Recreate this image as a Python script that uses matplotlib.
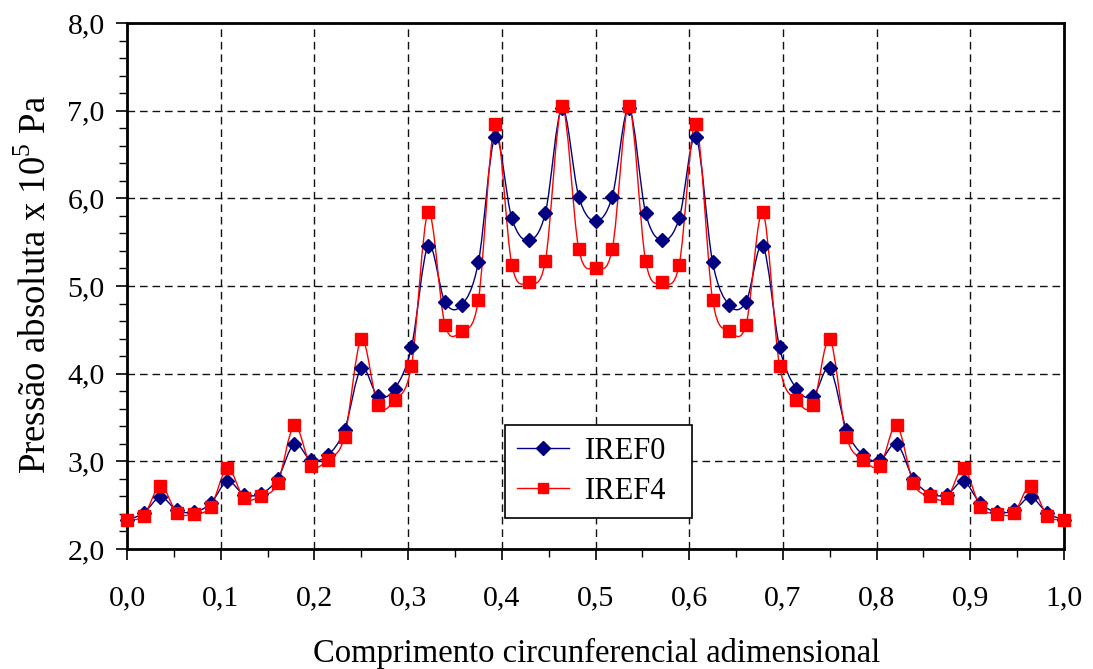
import numpy as np
import matplotlib
matplotlib.use("Agg")
import matplotlib.pyplot as plt
from matplotlib.path import Path
from matplotlib.patches import PathPatch
from matplotlib.lines import Line2D
from matplotlib.ticker import MultipleLocator, FuncFormatter

plt.rcParams['font.family'] = ['Liberation Serif', 'DejaVu Serif']
plt.rcParams['mathtext.fontset'] = 'custom'
plt.rcParams['mathtext.rm'] = 'Liberation Serif'

# x positions: 57 equally spaced points over the dimensionless circumference
n_points = 57
x_vals = np.linspace(0.0, 1.0, n_points)

iref0 = [2.33, 2.41, 2.59, 2.44, 2.42, 2.52, 2.77, 2.62, 2.63, 2.80,
         3.20, 3.01, 3.07, 3.36, 4.06, 3.74, 3.83, 4.30, 5.46, 4.82,
         4.78, 5.27, 6.70, 5.77, 5.52, 5.83, 7.03, 6.02, 5.74, 6.02,
         7.03, 5.83, 5.52, 5.77, 6.70, 5.27, 4.78, 4.82, 5.46, 4.30,
         3.83, 3.74, 4.06, 3.36, 3.07, 3.01, 3.20, 2.80, 2.63, 2.62,
         2.77, 2.52, 2.42, 2.44, 2.59, 2.41, 2.33]

iref4 = [2.33, 2.38, 2.72, 2.41, 2.40, 2.48, 2.92, 2.58, 2.60, 2.75,
         3.41, 2.95, 3.02, 3.28, 4.39, 3.64, 3.70, 4.09, 5.84, 4.56,
         4.49, 4.84, 6.85, 5.24, 5.04, 5.28, 7.05, 5.42, 5.21, 5.42,
         7.05, 5.28, 5.04, 5.24, 6.85, 4.84, 4.49, 4.56, 5.84, 4.09,
         3.70, 3.64, 4.39, 3.28, 3.02, 2.95, 3.41, 2.75, 2.60, 2.58,
         2.92, 2.48, 2.40, 2.41, 2.72, 2.38, 2.33]

series_names = ["IREF0", "IREF4"]


def smooth_path(x, y):
    """Catmull-Rom spline through the data points, as cubic Bezier segments."""
    x = np.asarray(x, float)
    y = np.asarray(y, float)
    pts = np.column_stack([x, y])
    verts = [pts[0]]
    codes = [Path.MOVETO]
    n = len(pts)
    t = 1.0 / 6.0
    for i in range(n - 1):
        p0 = pts[i - 1] if i > 0 else pts[i]
        p1 = pts[i]
        p2 = pts[i + 1]
        p3 = pts[i + 2] if i + 2 < n else pts[i + 1]
        c1 = p1 + (p2 - p0) * t
        c2 = p2 - (p3 - p1) * t
        verts += [c1, c2, p2]
        codes += [Path.CURVE4] * 3
    return Path(verts, codes)


fig = plt.figure(figsize=(10.93, 6.69), dpi=100)
ax = fig.add_axes([127 / 1093, 1 - 549 / 669, (1064 - 127) / 1093, (549 - 23) / 669])

styles = [
    dict(color="#000080", marker="D", ms=7.5),
    dict(color="#FF0000", marker="s", ms=8.5),
]

for vals, st in zip([iref0, iref4], styles):
    ax.add_patch(PathPatch(smooth_path(x_vals, vals), facecolor="none",
                           edgecolor=st["color"], lw=1.0, zorder=3))
    ax.plot(x_vals, vals, linestyle="none", marker=st["marker"],
            ms=st["ms"], color=st["color"], mec=st["color"], zorder=4,
            clip_on=False)

ax.set_xlim(0, 1)
ax.set_ylim(2, 8)
ax.xaxis.set_major_locator(MultipleLocator(0.1))
ax.xaxis.set_minor_locator(MultipleLocator(0.05))
ax.yaxis.set_major_locator(MultipleLocator(1.0))
ax.yaxis.set_minor_locator(MultipleLocator(0.2))
fmt = FuncFormatter(lambda v, p: f"{v:.1f}".replace(".", ","))
ax.xaxis.set_major_formatter(fmt)
ax.yaxis.set_major_formatter(fmt)

ax.tick_params(which="major", direction="out", length=8, width=1.2,
               labelsize=21.5, pad=8, colors="black")
ax.tick_params(which="minor", direction="out", length=6, width=1.0)
ax.tick_params(axis="x", which="major", pad=18)

for s in ax.spines.values():
    s.set_linewidth(2.0)
    s.set_color("black")

ax.grid(True, which="major", color="#111111", linestyle=(0, (5.5, 3.5)), lw=1.0)
ax.set_axisbelow(True)

fig.text(597 / 1093, 1 - 653 / 669, "Comprimento circunferencial adimensional",
         fontsize=23.5, ha="center", va="center")
fig.text(36 / 1093, 1 - 284 / 669, "Pressão absoluta x 10$^{5}$ Pa",
         fontsize=26.5, ha="center", va="center", rotation=90)

handles = [Line2D([], [], color=st["color"], marker=st["marker"], ms=st["ms"] * 0.9,
                  lw=1.0) for st in styles]
leg = ax.legend(handles, series_names, loc="lower left",
                bbox_to_anchor=((505 - 127) / 937, (549 - 518) / 526,
                                (692 - 505) / 937, (518 - 424) / 526),
                mode="expand", fontsize=22, frameon=True, fancybox=False,
                edgecolor="black", framealpha=1, borderaxespad=0,
                handlelength=1.7, handletextpad=0.5, labelspacing=0.35,
                borderpad=0.4)
leg.get_frame().set_linewidth(1.2)
leg.set_zorder(10)

fig.savefig("out.png", dpi=100, facecolor="white")
